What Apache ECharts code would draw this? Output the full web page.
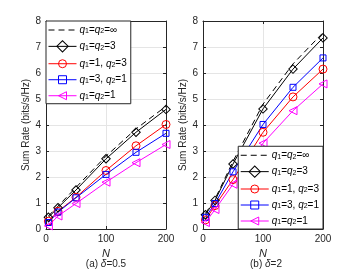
<!DOCTYPE html>
<html><head><meta charset="utf-8">
<script src="https://cdn.jsdelivr.net/npm/echarts@6/dist/echarts.min.js"></script>
<style>html,body{margin:0;padding:0;background:#fff}#c{width:359px;height:269px}</style>
</head><body><div id="c"></div>
<script>
var N = [4, 20, 50, 100, 150, 200];
var xTicks = [0, 100, 200];
var yTicks = [0, 1, 2, 3, 4, 5, 6, 7, 8];
// (a) delta = 0.5
var a_inf = [0.50, 0.88, 1.60, 2.80, 3.85, 4.72];
var a_q33 = [0.45, 0.82, 1.50, 2.70, 3.72, 4.60];
var a_q13 = [0.30, 0.68, 1.22, 2.25, 3.20, 4.02];
var a_q31 = [0.25, 0.65, 1.20, 2.10, 2.95, 3.68];
var a_q11 = [0.12, 0.50, 0.98, 1.80, 2.55, 3.25];
// (b) delta = 2
var b_inf = [0.60, 1.15, 2.60, 4.80, 6.35, 7.55];
var b_q33 = [0.55, 1.10, 2.50, 4.62, 6.15, 7.35];
var b_q13 = [0.35, 0.90, 1.90, 3.72, 5.08, 6.15];
var b_q31 = [0.45, 0.98, 2.20, 4.02, 5.45, 6.58];
var b_q11 = [0.25, 0.75, 1.72, 3.30, 4.55, 5.58];

var names = ['inf', 'q33', 'q13', 'q31', 'q11'];
var labels = {
  inf: '{i|q}{s|1}={i|q}{s|2}=∞',
  q33: '{i|q}{s|1}={i|q}{s|2}=3',
  q13: '{i|q}{s|1}=1, {i|q}{s|2}=3',
  q31: '{i|q}{s|1}=3, {i|q}{s|2}=1',
  q11: '{i|q}{s|1}={i|q}{s|2}=1'
};
var colors = {inf: '#000000', q33: '#000000', q13: '#ff0000', q31: '#0000ff', q11: '#ff00ff'};
var symbols = {inf: 'none', q33: 'rect', q13: 'circle', q31: 'rect', q11: 'triangle'};
var sizes = {inf: 0, q33: 6, q13: 8, q31: 6, q11: 8};
var rots = {inf: 0, q33: 45, q13: 0, q31: 0, q11: 90};
var dataA = {inf: a_inf, q33: a_q33, q13: a_q13, q31: a_q31, q11: a_q11};
var dataB = {inf: b_inf, q33: b_q33, q13: b_q13, q31: b_q31, q11: b_q11};

var font = 'Liberation Sans, Arial, sans-serif';
var rich = {
  i: {fontStyle: 'italic', fontSize: 10, fontFamily: font, color: '#000'},
  s: {fontSize: 7, fontFamily: font, color: '#000', verticalAlign: 'bottom', lineHeight: 10, padding: [4, 0, 0, 0]}
};

function mkX(idx, top) {
  return {
    type: 'value', gridIndex: idx, min: 0, max: 200, interval: 100,
    position: top ? 'top' : 'bottom',
    name: top ? '' : 'N', nameLocation: 'middle', nameGap: 17,
    nameTextStyle: {fontStyle: 'italic', fontSize: 11, fontFamily: font, color: '#262626'},
    axisLine: {show: true, onZero: false, lineStyle: {color: '#262626', width: 1}},
    axisTick: {show: true, inside: true, length: 3, lineStyle: {color: '#262626'}},
    axisLabel: {show: !top, fontSize: 10, fontFamily: font, color: '#262626', margin: 5,
      formatter: function (v) { return xTicks.indexOf(v) >= 0 ? String(v) : ''; }},
    splitLine: {show: !top, lineStyle: {color: '#e5e5e5', width: 1}}
  };
}
function mkY(idx, right) {
  return {
    type: 'value', gridIndex: idx, min: 0, max: 8, interval: 1,
    position: right ? 'right' : 'left',
    name: right ? '' : 'Sum Rate (bits/s/Hz)', nameLocation: 'middle', nameGap: 15,
    nameTextStyle: {fontSize: 10, fontFamily: font, color: '#262626'},
    axisLine: {show: true, onZero: false, lineStyle: {color: '#262626', width: 1}},
    axisTick: {show: true, inside: true, length: 3, lineStyle: {color: '#262626'}},
    axisLabel: {show: !right, fontSize: 10, fontFamily: font, color: '#262626', margin: 5,
      formatter: function (v) { return yTicks.indexOf(v) >= 0 ? String(v) : ''; }},
    splitLine: {show: !right, lineStyle: {color: '#e5e5e5', width: 1}}
  };
}

var series = [];
[dataA, dataB].forEach(function (d, g) {
  names.forEach(function (n) {
    series.push({
      name: n, type: 'line', xAxisIndex: g * 2, yAxisIndex: g * 2,
      data: N.map(function (x, i) { return [x, d[n][i]]; }),
      symbol: symbols[n], symbolSize: sizes[n], symbolRotate: rots[n],
      showSymbol: n !== 'inf',
      lineStyle: {color: colors[n], width: 1, type: n === 'inf' ? [6, 4] : 'solid'},
      itemStyle: {color: 'rgba(255,255,255,0)', borderColor: colors[n], borderWidth: 1},
      z: n === 'inf' ? 1 : 2,
      animation: false
    });
  });
});

function mkLegend(pos) {
  var l = {
    orient: 'vertical',
    data: names.map(function (n) {
      return {
        name: n,
        itemStyle: n === 'inf'
          ? {color: 'rgba(0,0,0,0)', borderColor: 'rgba(0,0,0,0)', borderWidth: 0, opacity: 0}
          : {color: 'rgba(255,255,255,0)', borderColor: colors[n], borderWidth: 1},
        lineStyle: {color: colors[n], width: 1, type: n === 'inf' ? [6, 4] : 'solid'}
      };
    }),
    itemWidth: 28, itemHeight: 10, itemGap: 5,
    backgroundColor: '#fff', borderColor: '#262626', borderWidth: 1,
    padding: [3, 4, 3, 2],
    textStyle: {fontSize: 10, fontFamily: font, color: '#000', rich: rich, padding: [0, 0, 0, -2]},
    formatter: function (n) { return labels[n]; }
  };
  for (var k in pos) l[k] = pos[k];
  return l;
}

var chart = echarts.init(document.getElementById('c'), null, {renderer: 'canvas'});
chart.setOption({
  backgroundColor: '#fff',
  animation: false,
  grid: [
    {left: 46, top: 21, width: 120, height: 208},
    {left: 203, top: 21, width: 120, height: 208}
  ],
  xAxis: [mkX(0, false), mkX(0, true), mkX(1, false), mkX(1, true)],
  yAxis: [mkY(0, false), mkY(0, true), mkY(1, false), mkY(1, true)],
  legend: [mkLegend({left: 46, top: 21}), mkLegend({right: 36, bottom: 40})],
  series: series,
  graphic: [
    {type: 'text', x: 106, y: 264, style: {text: '(a) {d|δ}=0.5', rich: {d: {fontStyle: 'italic', fontSize: 10, fontFamily: font}}, fontSize: 10, fontFamily: font, fill: '#262626', align: 'center', verticalAlign: 'middle'}},
    {type: 'text', x: 266, y: 264, style: {text: '(b) {d|δ}=2', rich: {d: {fontStyle: 'italic', fontSize: 10, fontFamily: font}}, fontSize: 10, fontFamily: font, fill: '#262626', align: 'center', verticalAlign: 'middle'}}
  ]
});
</script></body></html>
